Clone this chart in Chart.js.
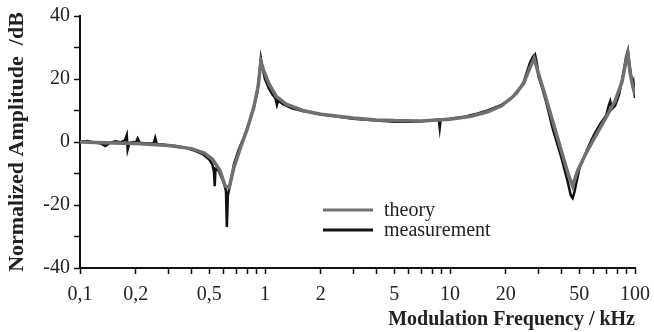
<!DOCTYPE html>
<html lang="en">
<head>
<meta charset="UTF-8">
<title>Normalized Amplitude vs Modulation Frequency</title>
<script src="https://cdn.jsdelivr.net/npm/chart.js@4"></script>
<style>
    body { margin: 0; background: #fff; }
    .wrap { width: 654px; height: 332px; }
</style>
</head>
<body>
<div class="wrap"><canvas id="chart" width="654" height="332"></canvas></div>
<script>
// frequencies in kHz, amplitudes in dB
const theoryFreq = [0.1, 0.15, 0.2, 0.3, 0.4, 0.47, 0.52, 0.57, 0.61, 0.64, 0.68, 0.74, 0.8, 0.87, 0.92, 0.95, 0.98, 1.05, 1.15, 1.3, 1.6, 2, 3, 4, 5, 7, 10, 13, 16, 19, 22, 25, 27, 28.5, 30, 33, 37, 41, 44, 46, 49, 55, 62, 70, 78, 85, 89, 91.5, 94, 97, 100];
const theoryAmp = [0, -0.3, -0.5, -1.1, -2.1, -3.5, -5.5, -9, -14, -14.5, -8, -1.5, 4, 11, 18, 25.5, 23, 18.5, 14.5, 12, 10, 8.8, 7.6, 7, 6.8, 6.7, 7.2, 8.2, 9.6, 11.5, 14.5, 18.5, 23.5, 26.5, 22, 14, 4, -5, -11, -14, -9, -3, 2.5, 8, 13, 19, 25, 28, 22, 18, 15];

const measFreq = [0.1, 0.11, 0.12, 0.13, 0.137, 0.145, 0.155, 0.165, 0.175, 0.179, 0.181, 0.185, 0.195, 0.2, 0.205, 0.21, 0.23, 0.25, 0.255, 0.26, 0.28, 0.3, 0.33, 0.37, 0.41, 0.46, 0.5, 0.52, 0.53, 0.535, 0.54, 0.56, 0.58, 0.6, 0.615, 0.622, 0.63, 0.65, 0.68, 0.72, 0.77, 0.82, 0.87, 0.91, 0.93, 0.95, 0.97, 1.0, 1.05, 1.1, 1.14, 1.16, 1.18, 1.25, 1.4, 1.6, 2, 2.5, 3, 4, 5, 6, 7, 8, 8.7, 8.8, 8.9, 10, 12, 14, 16, 19, 21, 23, 25, 27, 28, 28.8, 29.5, 30, 31, 33, 36, 40, 43, 45, 46, 47, 50, 55, 60, 65, 70, 72, 73.5, 75, 78, 82, 86, 89.5, 91.5, 93, 95, 97, 98, 99, 100];
const measAmp = [0.1, 0.3, -0.2, -0.5, -1.3, -0.3, 0.2, -0.1, 0.5, 2.2, -2.4, -0.3, 0, -0.3, 1.1, -0.2, -0.5, -0.4, 1.3, -0.6, -0.8, -1.0, -1.3, -1.8, -2.6, -3.8, -5.6, -7.2, -9.5, -14, -8.5, -9, -11, -13, -15.5, -27, -17, -13, -7, -2.5, 1.5, 6, 11, 16, 21, 26.5, 23.5, 20, 17, 15, 13.8, 11.8, 13.2, 12, 10.7, 9.8, 8.8, 8, 7.4, 6.8, 6.4, 6.4, 6.6, 6.9, 7.1, 4.5, 7.1, 7.4, 8, 9, 10, 11.8, 13.5, 15.5, 19, 25, 27, 27.8, 25, 21, 18.5, 13, 4, -5, -12, -17, -17.8, -16, -8.5, -2.5, 2.3, 5.8, 8.5, 11.5, 13, 10.5, 11.5, 15, 21, 27, 29, 25.5, 21.5, 18.5, 19.2, 16.5, 14];

const xTicks = [0.1, 0.2, 0.3, 0.4, 0.5, 0.6, 0.7, 0.8, 0.9, 1, 2, 3, 4, 5, 6, 7, 8, 9, 10, 20, 30, 40, 50, 60, 70, 80, 90, 100];
const xLabels = [0.1, 0.2, 0.5, 1, 2, 5, 10, 20, 50, 100];
const yLabels = [-40, -20, 0, 20, 40];

const toPoints = (xs, ys) => xs.map((x, i) => ({ x: x, y: ys[i] }));

Chart.defaults.font.family = '"Liberation Serif", "Times New Roman", serif';
Chart.defaults.color = '#222';

// legend drawn inside the plot, under the middle of the curve
const insideLegend = {
    id: 'insideLegend',
    afterDraw(chart) {
        const ctx = chart.ctx;
        chart.data.datasets.forEach((ds, i) => {
            const y = 210 + i * 20;
            ctx.save();
            ctx.strokeStyle = ds.borderColor;
            ctx.lineWidth = 3;
            ctx.beginPath();
            ctx.moveTo(323, y);
            ctx.lineTo(373, y);
            ctx.stroke();
            ctx.fillStyle = '#222';
            ctx.font = '20px "Liberation Serif"';
            ctx.textBaseline = 'middle';
            ctx.fillText(ds.label, 384, y + 1);
            ctx.restore();
        });
    }
};

new Chart(document.getElementById('chart'), {
    type: 'line',
    data: {
        datasets: [
            {
                label: 'theory',
                data: toPoints(theoryFreq, theoryAmp),
                borderColor: '#707070',
                borderWidth: 3.5,
                pointRadius: 0,
                tension: 0
            },
            {
                label: 'measurement',
                data: toPoints(measFreq, measAmp),
                borderColor: '#111',
                borderWidth: 2.5,
                pointRadius: 0,
                tension: 0
            }
        ]
    },
    options: {
        responsive: false,
        animation: false,
        layout: { padding: { top: 16, right: 19, left: 0, bottom: 0 } },
        plugins: { legend: { display: false }, tooltip: { enabled: false } },
        scales: {
            x: {
                type: 'logarithmic',
                min: 0.1,
                max: 100,
                afterBuildTicks: (scale) => { scale.ticks = xTicks.map(v => ({ value: v })); },
                afterFit: (scale) => {
                    scale.height = 64;
                    scale.paddingLeft = 0;
                    scale.paddingRight = 0;
                },
                ticks: {
                    autoSkip: false,
                    maxRotation: 0,
                    padding: 9,
                    font: { size: 20 },
                    callback: (v) => xLabels.includes(v) ? String(v).replace('.', ',') : ''
                },
                grid: { drawOnChartArea: false, color: '#111', tickLength: 6, tickWidth: 1.5 },
                border: { color: '#111', width: 2 },
                title: {
                    display: true,
                    text: 'Modulation Frequency / kHz',
                    align: 'end',
                    font: { size: 20, weight: 'bold' },
                    padding: { top: 0, bottom: 0 }
                }
            },
            y: {
                min: -40,
                max: 40,
                afterFit: (scale) => { scale.width = 80; },
                ticks: {
                    stepSize: 10,
                    padding: 4,
                    font: { size: 20 },
                    callback: (v) => yLabels.includes(v) ? String(v) : ''
                },
                grid: { drawOnChartArea: false, color: '#111', tickLength: 6, tickWidth: 1.5 },
                border: { color: '#111', width: 2 },
                title: {
                    display: true,
                    text: 'Normalized Amplitude  /dB',
                    font: { size: 22, weight: 'bold' },
                    padding: { top: 4, bottom: 0 }
                }
            }
        }
    },
    plugins: [insideLegend]
});
</script>
</body>
</html>
